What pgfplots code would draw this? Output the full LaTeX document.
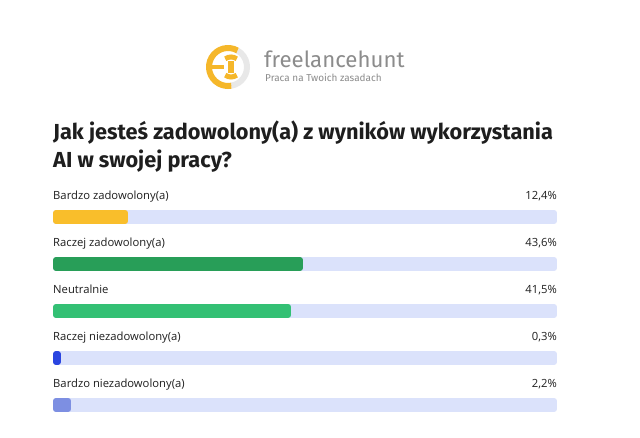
\documentclass[border=0pt]{standalone}
\usepackage{pgfplots}
\pgfplotsset{compat=1.18}
\usepackage{fontspec}
\setmainfont{Open Sans}
\newfontfamily\titlefont{Fira Sans}
\newfontfamily\logofont{Fira Sans}
\definecolor{cyellow}{HTML}{F9BE2B}
\definecolor{cdgreen}{HTML}{289E58}
\definecolor{cgreen}{HTML}{33C074}
\definecolor{cblue}{HTML}{2A45E0}
\definecolor{cperi}{HTML}{7D8FE2}
\definecolor{ctrack}{HTML}{DBE2FB}
\definecolor{clogo}{HTML}{F5B72A}
\definecolor{cring}{HTML}{E8E8E8}
\definecolor{ctext}{HTML}{1E1E1E}
\definecolor{clogotext}{HTML}{8C8C8C}
\begin{document}
\begin{tikzpicture}[x=1bp,y=1bp,
  lab/.style={anchor=base west, inner sep=0pt, text=ctext, font=\fontsize{11.3}{13}\selectfont, xshift=-3bp, yshift=17.5bp},
  val/.style={anchor=base east, inner sep=0pt, text=ctext, font=\fontsize{11.3}{13}\selectfont, xshift=3bp, yshift=17.5bp}]
\fill[white] (0,0) rectangle (640,438);
% logo
\draw[cring, line width=6bp] (228,371) ++(-80:19) arc[start angle=-80, end angle=60, radius=19];
\draw[clogo, line width=6bp] (228,371) ++(60:19) arc[start angle=60, end angle=280, radius=19];
\draw[clogo, line width=4bp] (209,371) -- (224,371);
\draw[clogo, line width=5bp] (231,371) ++(55:10) arc[start angle=55, end angle=125, radius=10];
\draw[clogo, line width=5bp] (231,371) ++(235:10) arc[start angle=235, end angle=305, radius=10];
\fill[clogo] (228,365) rectangle (234,377);
\node[anchor=base west, inner sep=0pt, text=clogotext, font=\logofont\fontsize{22.3}{26}\selectfont] at (264,370) {freelancehunt};
\node[anchor=base west, inner sep=0pt, text=clogotext, font=\logofont\fontsize{10}{12}\selectfont] at (265,356) {Praca na Twoich zasadach};
% title
\node[anchor=base west, inner sep=0pt, text=ctext, font=\titlefont\bfseries\fontsize{21.8}{26}\selectfont] at (53,298) {Jak jesteś zadowolony(a) z wyników wykorzystania};
\node[anchor=base west, inner sep=0pt, text=ctext, font=\titlefont\bfseries\fontsize{21.8}{26}\selectfont] at (53,270) {AI w swojej pracy?};
\begin{axis}[
  at={(56bp,33bp)}, anchor=south west, scale only axis,
  width=498bp, height=188bp,
  xmin=0, xmax=89, ymin=1, ymax=5, y dir=reverse,
  axis lines=none, clip=false,
  xbar, bar shift=0pt, bar width=8bp,
  every axis plot/.append style={line width=6bp, line join=round},
]
\addplot[fill=ctrack, draw=ctrack] coordinates {(89,1) (89,2) (89,3) (89,4) (89,5)};
\addplot[fill=cyellow, draw=cyellow] coordinates {(12.4,1)};
\addplot[fill=cdgreen, draw=cdgreen] coordinates {(43.6,2)};
\addplot[fill=cgreen, draw=cgreen] coordinates {(41.5,3)};
\addplot[fill=cblue, draw=cblue] coordinates {(0.3,4)};
\addplot[fill=cperi, draw=cperi] coordinates {(2.2,5)};
\node[lab] at (axis cs:0,1) {Bardzo zadowolony(a)};
\node[val] at (axis cs:89,1) {12,4\%};
\node[lab] at (axis cs:0,2) {Raczej zadowolony(a)};
\node[val] at (axis cs:89,2) {43,6\%};
\node[lab] at (axis cs:0,3) {Neutralnie};
\node[val] at (axis cs:89,3) {41,5\%};
\node[lab] at (axis cs:0,4) {Raczej niezadowolony(a)};
\node[val] at (axis cs:89,4) {0,3\%};
\node[lab] at (axis cs:0,5) {Bardzo niezadowolony(a)};
\node[val] at (axis cs:89,5) {2,2\%};
\end{axis}
\end{tikzpicture}
\end{document}
